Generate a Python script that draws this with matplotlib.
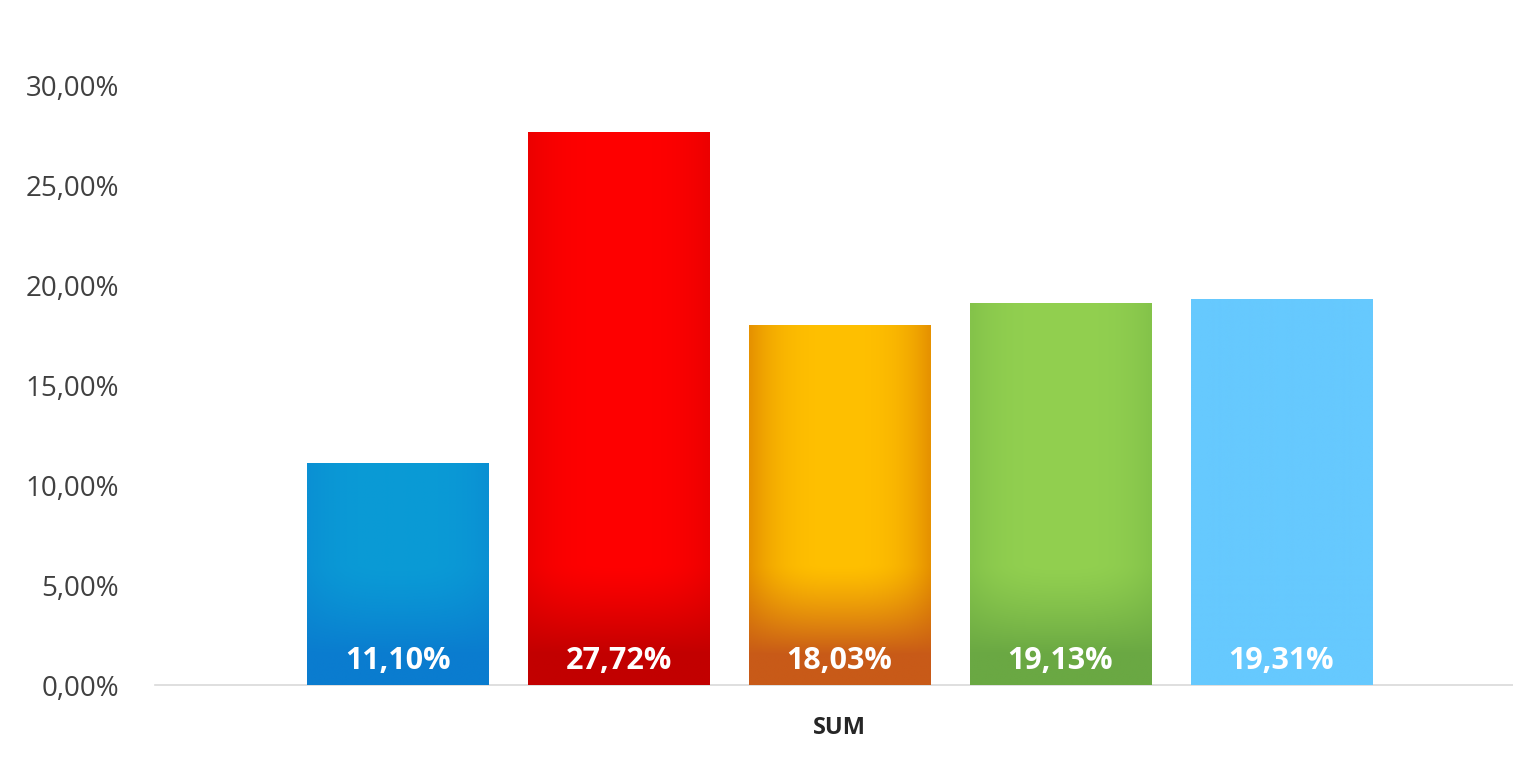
import numpy as np
import matplotlib
matplotlib.use("Agg")
import matplotlib.pyplot as plt
import matplotlib.colors as mcolors

# data
series = ["A", "B", "C", "D", "E"]
values = [11.10, 27.72, 18.03, 19.13, 19.31]
value_labels = ["11,10%", "27,72%", "18,03%", "19,13%", "19,31%"]
category = "SUM"
yticks = [0, 5, 10, 15, 20, 25, 30]
ytick_labels = ["0,00%", "5,00%", "10,00%", "15,00%", "20,00%", "25,00%", "30,00%"]

# main / side / bottom shade of each bar
main_cols = ["#0a9bd6", "#ff0000", "#ffc000", "#92d050", "#66c9fe"]
edge_cols = ["#0a90d3", "#ec0000", "#e69200", "#84c34a", "#66c9fe"]
bottom_cols = ["#0a7ccf", "#c20000", "#c85a18", "#6aa843", "#66c9fe"]

plt.rcParams['font.family'] = ['Open Sans', 'DejaVu Sans']

fig = plt.figure(figsize=(15.13, 7.57), dpi=100)
ax = fig.add_axes([155 / 1513, 1 - 685 / 757, 1 - 155 / 1513, (685 - 86) / 757])

x = np.arange(len(values)) - 2
width = 0.82
bars = ax.bar(x, values, width=width, color=main_cols, zorder=2)


def gradient(main, edge, bottom, h, nx=60, ny=200):
    m = np.array(mcolors.to_rgb(main))
    e = np.array(mcolors.to_rgb(edge))
    b = np.array(mcolors.to_rgb(bottom))
    xs = np.linspace(-1, 1, nx)
    ys = np.linspace(h, 0, ny)
    hx = np.abs(xs) ** 3
    vy = np.clip((6.0 - ys) / 4.5, 0, 1) ** 1.3
    img = m[None, None, :] * (1 - hx[None, :, None]) + e[None, None, :] * hx[None, :, None]
    img = img * (1 - vy[:, None, None]) + b[None, None, :] * vy[:, None, None]
    return img


for bar, xi, v, mc, ec, bc in zip(bars, x, values, main_cols, edge_cols, bottom_cols):
    img = gradient(mc, ec, bc, v)
    im = ax.imshow(img, extent=[xi - width / 2, xi + width / 2, 0, v],
                   aspect='auto', zorder=3, interpolation='bilinear')
    im.set_clip_path(bar)

for xi, lab in zip(x, value_labels):
    ax.text(xi, 1.2, lab, ha='center', va='center', color='white',
            fontsize=22, fontweight='bold', zorder=4)

ax.set_xlim(-3.1, 3.05)
ax.set_ylim(0, 30)
ax.set_yticks(yticks)
ax.set_yticklabels(ytick_labels, fontsize=20, color='#404040')
ax.set_xticks([0])
ax.set_xticklabels([category], fontsize=17, fontweight='bold', color='#262626')
ax.tick_params(axis='y', length=0, pad=26)
ax.tick_params(axis='x', length=0, pad=22)
for s in ['top', 'right', 'left']:
    ax.spines[s].set_visible(False)
ax.spines['bottom'].set_color('#d9d9d9')
ax.spines['bottom'].set_linewidth(1.2)

fig.savefig("out.png", dpi=100, facecolor='white')
